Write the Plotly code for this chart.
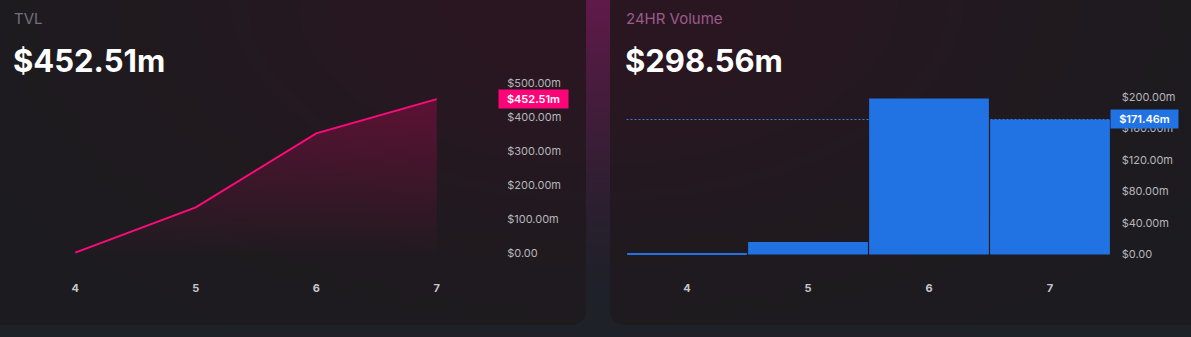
import base64, struct, zlib
import numpy as np
import plotly.graph_objects as go

# ---------------- data ----------------
days = [4, 5, 6, 7]
tvl_values = [1.0, 134.0, 352.0, 452.51]          # $m
volume_values = [1.5, 16.0, 198.0, 171.46]        # $m
tvl_title, tvl_headline, tvl_last = "TVL", "$452.51m", "$452.51m"
vol_title, vol_headline, vol_last = "24HR Volume", "$298.56m", "$171.46m"
tvl_tickvals = [0, 100, 200, 300, 400, 500]
tvl_ticktext = ["$0.00", "$100.00m", "$200.00m", "$300.00m", "$400.00m", "$500.00m"]
vol_tickvals = [0, 40, 80, 120, 160, 200]
vol_ticktext = ["$0.00", "$40.00m", "$80.00m", "$120.00m", "$160.00m", "$200.00m"]
x_ticktext = ["4", "5", "6", "7"]

W, H = 1191, 337

# ---------------- background picture (page + cards) ----------------
yy, xx = np.mgrid[0:H, 0:W].astype(float)
page_base = np.array([31, 33, 41], float)
glow = np.array([96, 26, 74], float)
g = np.clip(1 - yy / 290, 0, 1) ** 1.3 * np.exp(-((xx - 597) / 260) ** 2)
img = page_base + g[..., None] * (glow - page_base)

card_base = np.array([28, 28, 31], float)
card_tint = np.array([43, 22, 34], float)
w = np.exp(-((xx - 597) / 420) ** 2 - (yy / 230) ** 2)
card_col = card_base + w[..., None] * (card_tint - card_base)

def rrect_alpha(x0, y0, x1, y1, r):
    cx = np.clip(xx + 0.5, x0 + r, x1 - r)
    cy = np.clip(yy + 0.5, y0 + r, y1 - r)
    d = np.sqrt((xx + 0.5 - cx) ** 2 + (yy + 0.5 - cy) ** 2)
    return np.clip(r + 0.5 - d, 0, 1)

for (x0, y0, x1, y1) in [(-20, -20, 586, 325), (610, -20, 1215, 325)]:
    a = rrect_alpha(x0, y0, x1, y1, 14)[..., None]
    img = img * (1 - a) + card_col * a

img = np.clip(img, 0, 255).astype(np.uint8)

def png_bytes(arr):
    h, w_, _ = arr.shape
    raw = b"".join(b"\x00" + arr[r].tobytes() for r in range(h))
    def chunk(t, d):
        return struct.pack(">I", len(d)) + t + d + struct.pack(">I", zlib.crc32(t + d) & 0xffffffff)
    return (b"\x89PNG\r\n\x1a\n" + chunk(b"IHDR", struct.pack(">IIBBBBB", w_, h, 8, 2, 0, 0, 0))
            + chunk(b"IDAT", zlib.compress(raw, 9)) + chunk(b"IEND", b""))

bg_src = "data:image/png;base64," + base64.b64encode(png_bytes(img)).decode()

# ---------------- helpers ----------------
def px(x):
    return x / W

def py(y):
    return 1 - y / H

FONT = "Inter, 'Open Sans', sans-serif"
PINK = "#ff0a7a"
BLUE = "#2173e4"
TICK_COL = "#b6b6ba"

fig = go.Figure()

# TVL line with gradient fill
fig.add_trace(go.Scatter(
    x=days, y=tvl_values, mode="lines",
    line=dict(color=PINK, width=2),
    fill="tozeroy",
    fillgradient=dict(type="vertical",
                      colorscale=[[0, "rgba(255,0,110,0.01)"], [1, "rgba(255,0,110,0.25)"]]),
    xaxis="x", yaxis="y", hoverinfo="skip", showlegend=False,
))

# Volume bars
fig.add_trace(go.Bar(
    x=days, y=volume_values, marker=dict(color=BLUE, line=dict(width=0)),
    xaxis="x2", yaxis="y2", hoverinfo="skip", showlegend=False,
))

xaxis_common = dict(
    range=[3.5, 7.5], tickvals=days, ticktext=x_ticktext,
    showgrid=False, zeroline=False, showline=False,
    ticks="outside", ticklen=18, tickcolor="rgba(0,0,0,0)",
    tickfont=dict(family=FONT, size=11, color="#c6c6ca", weight="bold"),
    fixedrange=True,
)
yaxis_common = dict(
    side="right", showgrid=False, zeroline=False, showline=False,
    ticks="outside", tickcolor="rgba(0,0,0,0)",
    tickfont=dict(family=FONT, size=11, color=TICK_COL),
    fixedrange=True,
)

fig.update_layout(
    width=W, height=H, margin=dict(l=0, r=0, t=0, b=0),
    paper_bgcolor="#1f2129", plot_bgcolor="rgba(0,0,0,0)",
    bargap=0.01,
    xaxis=dict(domain=[px(15), px(497)], anchor="y", **xaxis_common),
    yaxis=dict(domain=[py(260), py(75)], range=[-20.6, 523.5], anchor="x", ticklen=7,
               tickvals=tvl_tickvals, ticktext=tvl_ticktext, **yaxis_common),
    xaxis2=dict(domain=[px(626.5), px(1110.5)], anchor="y2", **xaxis_common),
    yaxis2=dict(domain=[py(260), py(90)], range=[-6.98, 208.9], anchor="x2", ticklen=8,
                tickvals=vol_tickvals, ticktext=vol_ticktext, **yaxis_common),
    images=[dict(source=bg_src, xref="paper", yref="paper", x=0, y=1, sizex=1, sizey=1,
                 xanchor="left", yanchor="top", sizing="stretch", layer="below")],
    shapes=[dict(type="line", xref="x2 domain", x0=0, x1=1, yref="y2",
                 y0=volume_values[-1], y1=volume_values[-1],
                 line=dict(color="#3f80e2", width=1, dash="2px,2px"), layer="below")],
    font=dict(family=FONT),
)

annotations = [
    dict(text=tvl_title, x=px(12), y=py(19), xanchor="left", yanchor="middle",
         font=dict(family=FONT, size=15, color="#75707b")),
    dict(text=tvl_headline, x=px(11), y=py(60), xanchor="left", yanchor="middle",
         font=dict(family=FONT, size=31, color="#ffffff", weight="bold")),
    dict(text=vol_title, x=px(624), y=py(19), xanchor="left", yanchor="middle",
         font=dict(family=FONT, size=15, color="#9c5b8d")),
    dict(text=vol_headline, x=px(623), y=py(60), xanchor="left", yanchor="middle",
         font=dict(family=FONT, size=31, color="#ffffff", weight="bold")),
    dict(text=tvl_last, x=px(498), xanchor="left", y=tvl_values[-1], yref="y", yanchor="middle",
         width=69, height=18, bgcolor="#fe0479", borderpad=0, align="center",
         font=dict(family=FONT, size=11, color="#ffffff", weight=600)),
    dict(text=vol_last, x=px(1110), xanchor="left", y=volume_values[-1], yref="y2", yanchor="middle",
         width=67, height=18, bgcolor=BLUE, borderpad=0, align="center",
         font=dict(family=FONT, size=11, color="#ffffff", weight=600)),
]
for a in annotations:
    a.setdefault("xref", "paper")
    a.setdefault("yref", "paper")
    a["showarrow"] = False
fig.update_layout(annotations=annotations)

fig.write_html("out.html", config=dict(displayModeBar=False))
